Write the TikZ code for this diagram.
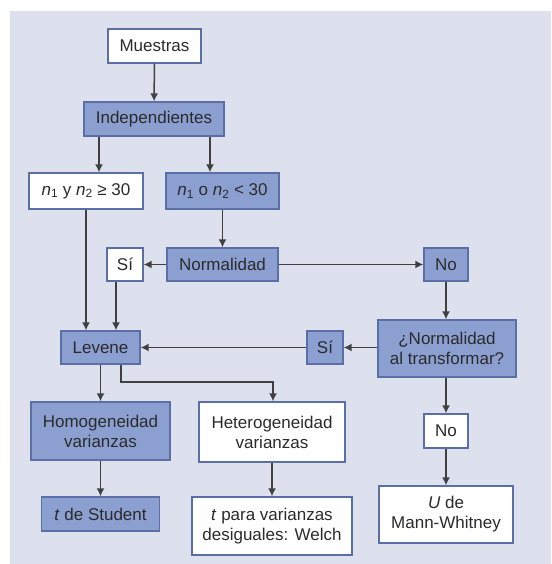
\documentclass[tikz,border=0pt]{standalone}
\usepackage{fontspec}
\setmainfont{Liberation Sans}
\usetikzlibrary{arrows.meta}
\definecolor{panel}{HTML}{DDE1EE}
\definecolor{boxblue}{HTML}{8C9FD1}
\definecolor{edgeblue}{HTML}{5B6FA6}
\definecolor{ink}{HTML}{2B2B2B}
\definecolor{wire}{HTML}{404040}
\begin{document}
\begin{tikzpicture}[x=1pt,y=-1pt,
  base/.style={draw=edgeblue,line width=1.3pt,text=ink,inner sep=0pt,align=center,
    font=\fontsize{17}{20}\selectfont},
  wbox/.style={base,fill=white},
  bbox/.style={base,fill=boxblue},
  arr/.style={draw=wire,line width=1.5pt,-{Latex[length=8pt,width=8pt]}}]
\useasboundingbox (0,0) rectangle (551,564);
\fill[panel] (10,11) rectangle (551,564);

% boxes
\node[wbox,minimum width=93pt,minimum height=34pt] (muestras) at (154.5,46) {Muestras};
\node[bbox,minimum width=140pt,minimum height=34pt] (indep) at (154,119) {Independientes};
\node[wbox,minimum width=114pt,minimum height=36pt] (ge30) at (86,191) {\textit{n}\textsubscript{1} y \textit{n}\textsubscript{2} ≥ 30};
\node[bbox,minimum width=113pt,minimum height=36pt] (lt30) at (222.5,191) {\textit{n}\textsubscript{1} o \textit{n}\textsubscript{2} < 30};
\node[wbox,minimum width=36pt,minimum height=33pt] (si1) at (125,264.5) {Sí};
\node[bbox,minimum width=111pt,minimum height=33pt] (normal) at (222.5,264.5) {Normalidad};
\node[bbox,minimum width=44pt,minimum height=33pt] (no1) at (446,264.5) {No};
\node[bbox,minimum width=79pt,minimum height=33pt] (levene) at (100.5,347.5) {Levene};
\node[bbox,minimum width=36pt,minimum height=33pt] (si2) at (325,347.5) {Sí};
\node[bbox,minimum width=138pt,minimum height=57pt] (transf) at (447,348.5) {¿Normalidad\\al transformar?};
\node[bbox,minimum width=139pt,minimum height=58pt] (homog) at (100.5,431) {Homogeneidad\\varianzas};
\node[wbox,minimum width=146pt,minimum height=60pt] (heter) at (272,432) {Heterogeneidad\\varianzas};
\node[wbox,minimum width=44pt,minimum height=34pt] (no2) at (446,431) {No};
\node[bbox,minimum width=118pt,minimum height=34pt] (student) at (100.5,514) {\textit{t} de Student};
\node[wbox,minimum width=160pt,minimum height=58pt] (welch) at (272,526) {\textit{t} para varianzas\\desiguales: Welch};
\node[wbox,minimum width=134pt,minimum height=57pt] (mann) at (446,514.5) {\textit{U} de\\Mann-Whitney};

% connectors
\coordinate (bend1) at (121,382);
\coordinate (bend2) at (273,382);
\draw[arr] (muestras) -- (indep);
\draw[arr] (indep.south -| 99,0) -- (ge30.north -| 99,0);
\draw[arr] (indep.south -| 210,0) -- (lt30.north -| 210,0);
\draw[arr] (lt30) -- (normal);
\draw[arr] (normal) -- (si1);
\draw[arr] (normal) -- (no1);
\draw[arr] (ge30) -- (levene.north -| ge30);
\draw[arr] (si1.south -| 116,0) -- (levene.north -| 116,0);
\draw[arr] (no1) -- (transf.north -| no1);
\draw[arr] (transf.west |- si2) -- (si2);
\draw[arr] (si2) -- (levene);
\draw[arr] (levene) -- (homog.north -| levene);
\draw[arr] (levene.south -| bend1) -- (bend1) -- (bend2) -- (heter.north -| bend2);
\draw[arr] (homog) -- (student.north -| homog);
\draw[arr] (heter) -- (welch);
\draw[arr] (transf.south -| no2) -- (no2);
\draw[arr] (no2) -- (mann.north -| no2);
\end{tikzpicture}
\end{document}
